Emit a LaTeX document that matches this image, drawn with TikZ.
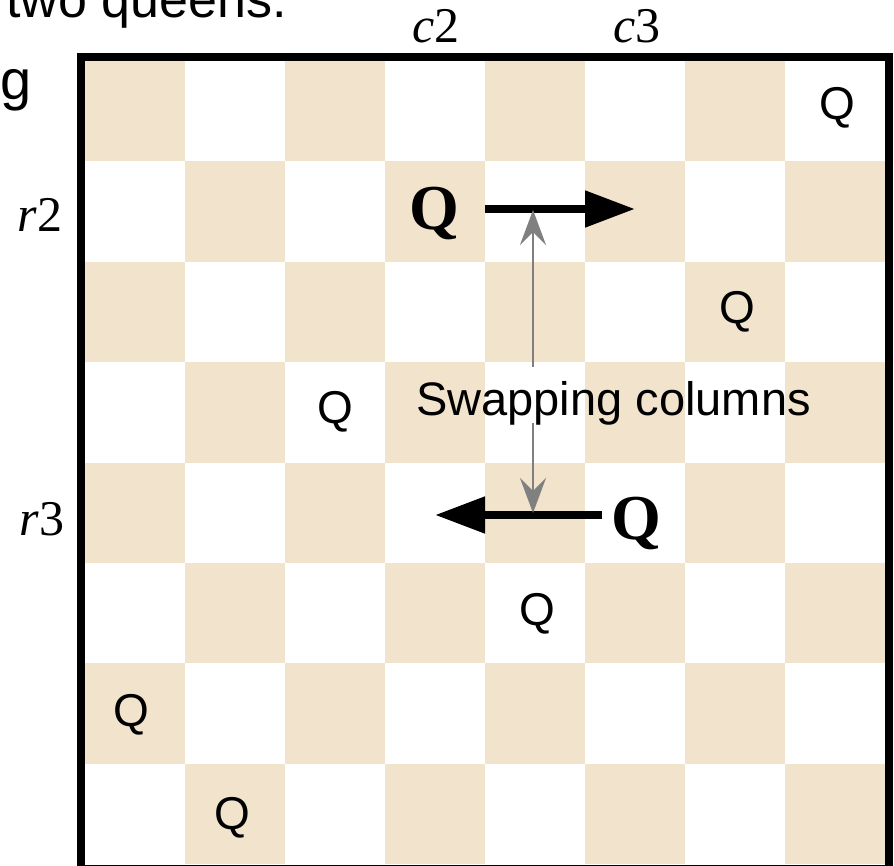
\documentclass[tikz,border=0pt]{standalone}
\usepackage{fontspec}
\setmainfont{Liberation Serif}
\newfontfamily\arialfont{Liberation Sans}
\usetikzlibrary{arrows.meta}
\definecolor{tan}{RGB}{242,228,204}
\definecolor{arrowgray}{RGB}{128,128,128}
\tikzset{
  queen/.style={font=\arialfont\fontsize{46}{50}\selectfont, inner sep=0pt, anchor=center},
  bigqueen/.style={font=\bfseries\fontsize{64}{68}\selectfont, inner sep=0pt, anchor=center},
  axislabel/.style={font=\fontsize{50}{54}\selectfont, inner sep=0pt, anchor=base},
  moveline/.style={line width=8pt, -{Triangle[length=50pt,width=35pt]}},
  swapline/.style={arrowgray, line width=2pt, -{Stealth[length=35pt,width=26pt,inset=13pt]}},
  caption/.style={font=\arialfont\fontsize{47}{50}\selectfont, inner sep=0pt, anchor=base}
}
\begin{document}
\begin{tikzpicture}[x=1pt,y=-1pt]
\useasboundingbox (0,0) rectangle (894,866);
\clip (0,0) rectangle (894,866);
% board squares
\foreach \c in {0,...,7}{
  \foreach \r in {0,...,7}{
    \pgfmathtruncatemacro{\parity}{mod(\c+\r,2)}
    \ifnum\parity=0
      \fill[tan] (85+100*\c, 61+100.375*\r) rectangle ++(100,100.375);
    \fi
  }
}
% board frame
\draw[line width=8pt] (81,57) rectangle (889,869);
% partial text from surrounding figure
\node[font=\arialfont\fontsize{52}{56}\selectfont, inner sep=0pt, anchor=base west] (twoq) at (6,18) {two queens.};
\node[font=\arialfont\fontsize{56}{60}\selectfont, inner sep=0pt, anchor=base west] (gtxt) at (0,100) {g};
% axis labels
\node[axislabel] (c2) at (436,43) {\textit{c}2};
\node[axislabel] (c3) at (637,43) {\textit{c}3};
\node[axislabel] (r2) at (40,232) {\textit{r}2};
\node[axislabel] (r3) at (42,535) {\textit{r}3};
% queens
\node[queen] (q1) at (837,108) {Q};
\node[queen] (q3) at (737,312) {Q};
\node[queen] (q4) at (335,412) {Q};
\node[queen] (q6) at (537,614) {Q};
\node[queen] (q7) at (131,715) {Q};
\node[queen] (q8) at (232,818) {Q};
\node[bigqueen] (bq1) at (434,214) {Q};
\node[bigqueen] (bq2) at (636,523) {Q};
% move arrows
\coordinate (m1s) at (485,209);
\coordinate (m1e) at (635,209);
\coordinate (m2s) at (602,515);
\coordinate (m2e) at (435,515);
\draw[moveline] (m1s) -- (m1e);
\draw[moveline] (m2s) -- (m2e);
% swapping label and arrow
\node[caption] (swap) at (613.5,415) {Swapping columns};
\coordinate (gtop) at (533,367);
\coordinate (gbot) at (533,423);
\coordinate (gtipu) at (533,210);
\coordinate (gtipd) at (533,513);
\draw[swapline] (gtop) -- (gtipu);
\draw[swapline] (gbot) -- (gtipd);
\end{tikzpicture}
\end{document}
